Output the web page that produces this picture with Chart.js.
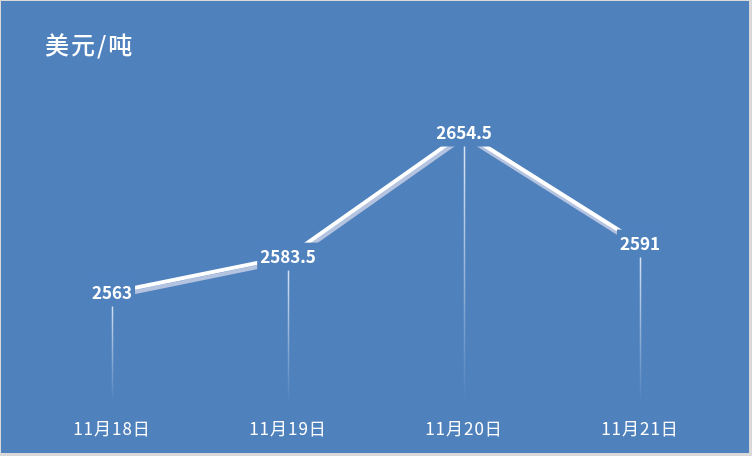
<!DOCTYPE html>
<html>
<head>
<meta charset="utf-8">
<script src="https://cdn.jsdelivr.net/npm/chart.js@4.4.0/dist/chart.umd.min.js"></script>
<style>
    html, body { margin: 0; padding: 0; background: #d9d9d9; }
    #wrap { width: 752px; height: 456px; }
</style>
</head>
<body>
<div id="wrap"><canvas id="price" width="752" height="456"></canvas></div>
<script>
const titleText = '美元/吨';
const days = ['11月18日', '11月19日', '11月20日', '11月21日'];
const prices = [2563, 2583.5, 2654.5, 2591];
const yRange = [2500, 2700];

const bgColor = '#4f81bd';
const cjkFont = '"Noto Sans CJK SC", "Noto Sans", sans-serif';

// фон и заголовок
const backdrop = {
    id: 'backdrop',
    beforeDraw(chart) {
        const ctx = chart.ctx;
        ctx.save();
        ctx.fillStyle = '#d9d9d9';
        ctx.fillRect(0, 0, chart.width, chart.height);
        ctx.fillStyle = bgColor;
        ctx.fillRect(1, 1, 748, 452);
        ctx.fillStyle = '#ffffff';
        ctx.font = '500 24px ' + cjkFont;
        ctx.letterSpacing = '2px';
        ctx.textBaseline = 'middle';
        ctx.fillText(titleText, 45, 45);
        ctx.restore();
        ctx.letterSpacing = '1px';
    },
    beforeDatasetsDraw(chart) {
        const ctx = chart.ctx;
        ctx.letterSpacing = '0px';
        // линии от точек вниз к оси
        const meta = chart.getDatasetMeta(0);
        const bottom = chart.chartArea.bottom;
        ctx.save();
        meta.data.forEach(pt => {
            const grad = ctx.createLinearGradient(0, pt.y, 0, bottom);
            grad.addColorStop(0, 'rgba(255,255,255,0.85)');
            grad.addColorStop(1, 'rgba(255,255,255,0)');
            ctx.strokeStyle = grad;
            ctx.lineWidth = 1.5;
            ctx.beginPath();
            ctx.moveTo(Math.round(pt.x) + 0.5, pt.y);
            ctx.lineTo(Math.round(pt.x) + 0.5, bottom);
            ctx.stroke();
        });
        ctx.restore();
    },
    beforeDatasetDraw(chart) {
        const ctx = chart.ctx;
        ctx.save();
        ctx.shadowColor = 'rgba(185,198,225,0.95)';
        ctx.shadowOffsetX = 1;
        ctx.shadowOffsetY = 4;
        ctx.shadowBlur = 0;
    },
    afterDatasetDraw(chart) {
        chart.ctx.restore();
    },
    afterDatasetsDraw(chart) {
        const ctx = chart.ctx;
        const meta = chart.getDatasetMeta(0);
        ctx.save();
        ctx.font = 'bold 17px ' + cjkFont;
        ctx.textAlign = 'center';
        ctx.textBaseline = 'middle';
        meta.data.forEach((pt, i) => {
            const text = String(prices[i]);
            const w = ctx.measureText(text).width + 6;
            ctx.fillStyle = bgColor;
            ctx.fillRect(pt.x - w / 2, pt.y - 14, w, 28);
            ctx.fillStyle = '#ffffff';
            ctx.fillText(text, pt.x, pt.y);
        });
        ctx.restore();
    }
};

new Chart(document.getElementById('price'), {
    type: 'line',
    data: {
        labels: days,
        datasets: [{
            data: prices,
            borderColor: '#ffffff',
            borderWidth: 4,
            pointRadius: 0,
            pointHoverRadius: 0,
            tension: 0,
            fill: false
        }]
    },
    options: {
        responsive: false,
        animation: false,
        events: [],
        layout: {
            padding: { left: 24, right: 24, top: 53, bottom: 1 }
        },
        scales: {
            x: {
                offset: true,
                grid: { display: false, drawTicks: false },
                border: { display: false },
                ticks: {
                    color: '#ffffff',
                    padding: 16,
                    font: { size: 17, family: cjkFont }
                }
            },
            y: {
                display: false,
                min: yRange[0],
                max: yRange[1]
            }
        },
        plugins: {
            legend: { display: false },
            tooltip: { enabled: false }
        }
    },
    plugins: [backdrop]
});
</script>
</body>
</html>
